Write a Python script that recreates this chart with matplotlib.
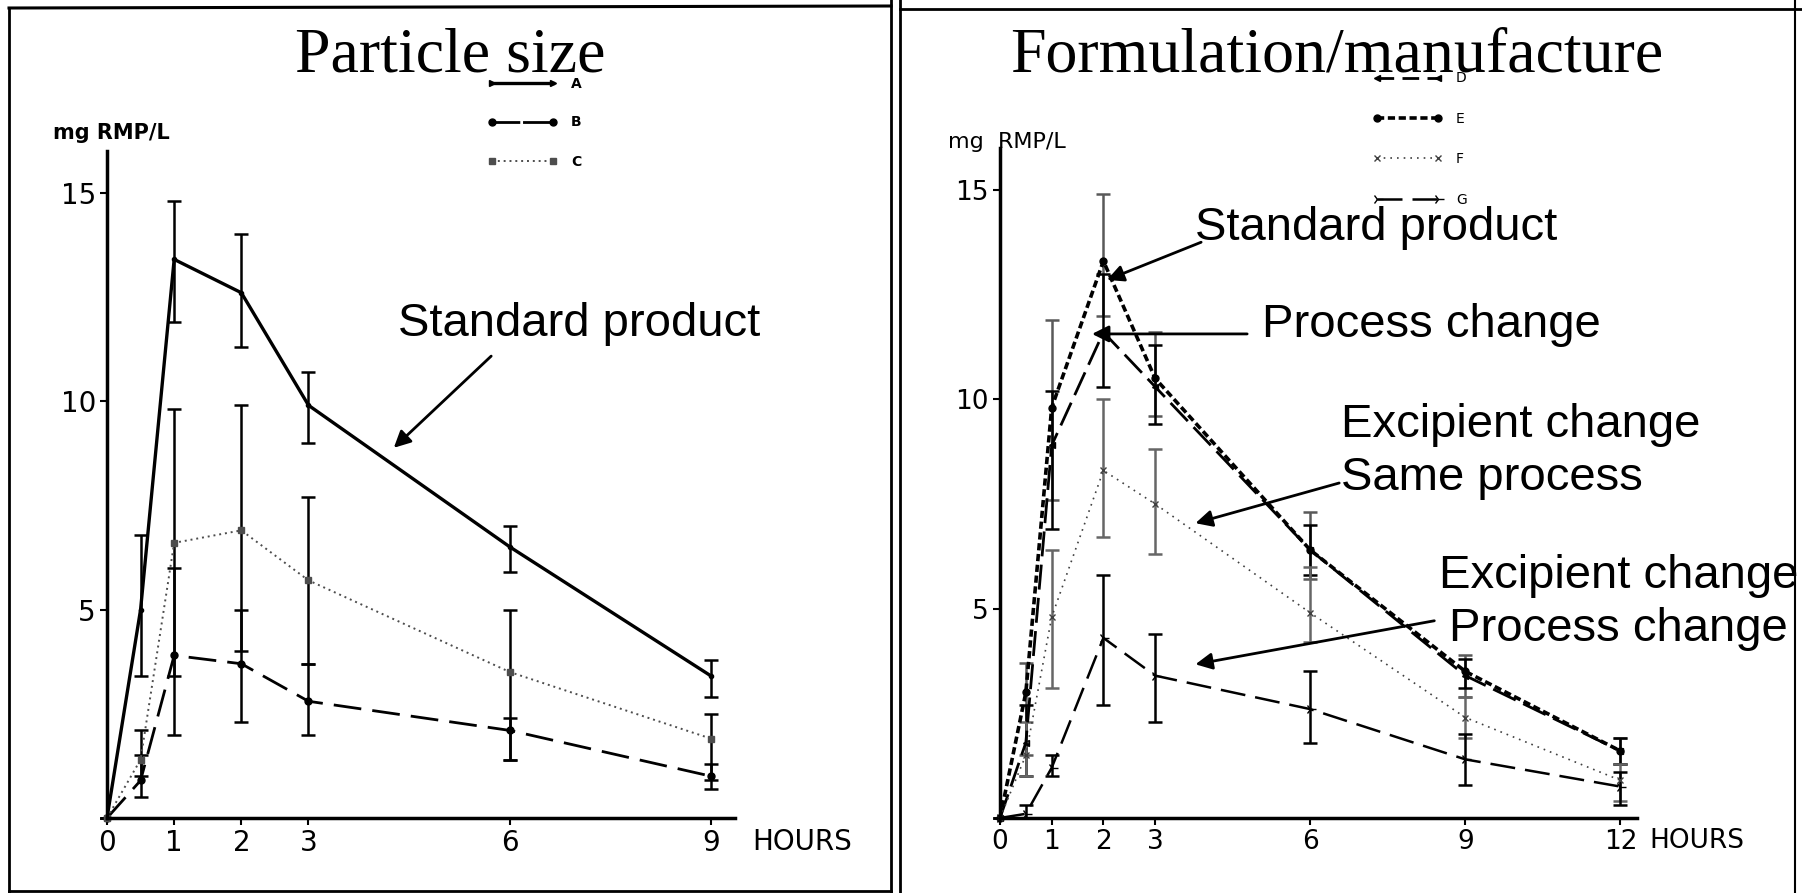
import matplotlib
matplotlib.use("Agg")
import matplotlib.pyplot as plt
from matplotlib.lines import Line2D
import numpy as np

# ---- left panel: particle size (A, B, C) ----
hours_left = [0, 0.5, 1, 2, 3, 6, 9]
a_mean = [0, 5.0, 13.4, 12.6, 9.9, 6.5, 3.4]
a_lo = [0, 3.4, 11.9, 11.3, 9.0, 5.9, 2.9]
a_hi = [0, 6.8, 14.8, 14.0, 10.7, 7.0, 3.8]
b_mean = [0, 0.9, 3.9, 3.7, 2.8, 2.1, 1.0]
b_lo = [0, 0.5, 2.0, 2.3, 2.0, 1.4, 0.7]
b_hi = [0, 1.5, 6.0, 5.0, 3.7, 2.4, 1.3]
c_mean = [0, 1.4, 6.6, 6.9, 5.7, 3.5, 1.9]
c_lo = [0, 1.0, 3.4, 4.0, 3.7, 1.4, 0.9]
c_hi = [0, 2.1, 9.8, 9.9, 7.7, 5.0, 2.5]

# ---- right panel: formulation / manufacture (D, E, F, G) ----
hours_right = [0, 0.5, 1, 2, 3, 6, 9, 12]
e_mean = [0, 3.0, 9.8, 13.3, 10.5, 6.4, 3.5, 1.6]   # standard product
e_lo = [0, 1.5, 7.6, 12.0, 9.6, 5.7, 2.9, 1.3]
e_hi = [0, 3.7, 11.9, 14.9, 11.6, 7.3, 3.9, 1.9]
d_mean = [0, 1.8, 8.9, 11.6, 10.3, 6.4, 3.4, 1.6]   # process change
d_lo = [0, 1.0, 6.9, 10.3, 9.4, 5.8, 3.1, 1.3]
d_hi = [0, 2.7, 10.2, 13.0, 11.3, 7.0, 3.8, 1.9]
f_mean = [0, 1.5, 4.8, 8.3, 7.5, 4.9, 2.4, 0.9]     # excipient change, same process
f_lo = [0, 1.0, 3.1, 6.7, 6.3, 4.2, 1.9, 0.4]
f_hi = [0, 2.3, 6.4, 10.0, 8.8, 6.0, 2.9, 1.3]
g_mean = [0, 0.1, 1.2, 4.3, 3.4, 2.6, 1.4, 0.75]    # excipient + process change
g_lo = [0, 0.0, 1.0, 2.7, 2.3, 1.8, 0.8, 0.3]
g_hi = [0, 0.3, 1.5, 5.8, 4.4, 3.5, 2.0, 1.1]

ticks_left = [0, 1, 2, 3, 6, 9]
ticks_right = [0, 1, 2, 3, 6, 9, 12]

W, H = 1802, 893
fig = plt.figure(figsize=(W / 100, H / 100), dpi=100)
fig.patch.set_facecolor("white")

ax1 = fig.add_axes([107 / W, 1 - 818 / H, 628 / W, 667 / H])
ax2 = fig.add_axes([1000 / W, 1 - 818 / H, 637 / W, 670 / H])


def yerr(m, lo, hi):
    m = np.array(m)
    return [m - np.array(lo), np.array(hi) - m]


def series(ax, x, m, lo, hi, dashes, lw, marker, color="black", ecolor="black", ms=5):
    line, caps, bars = ax.errorbar(x, m, yerr=yerr(m, lo, hi), color=color, lw=lw,
                                   marker=marker, ms=ms, ecolor=ecolor, elinewidth=1.8,
                                   capsize=5, capthick=1.8, clip_on=False)
    if dashes is not None:
        line.set_dashes(dashes)
    return line


series(ax1, hours_left, a_mean, a_lo, a_hi, None, 2.4, "o", ms=3)
series(ax1, hours_left, b_mean, b_lo, b_hi, (10, 4), 2.0, "o")
series(ax1, hours_left, c_mean, c_lo, c_hi, (1, 2), 1.4, "s", color="0.3", ms=4)

series(ax2, hours_right, e_mean, e_lo, e_hi, (2, 1), 2.6, "o", ms=5, ecolor="0.35")
series(ax2, hours_right, d_mean, d_lo, d_hi, (9, 3), 2.0, "<", ms=5)
series(ax2, hours_right, f_mean, f_lo, f_hi, (1, 3), 1.2, "x", color="0.25", ecolor="0.4", ms=5)
series(ax2, hours_right, g_mean, g_lo, g_hi, (10, 4), 1.8, "4", ms=8)

for ax in (ax1, ax2):
    for s in ("top", "right"):
        ax.spines[s].set_visible(False)
    for s in ("left", "bottom"):
        ax.spines[s].set_linewidth(2.5)
    ax.set_facecolor("none")
    ax.tick_params(direction="out", length=5, width=1.5, labelsize=20, pad=3)

ax1.set_xlim(0, 9.35)
ax1.set_ylim(0, 16)
ax1.set_xticks(ticks_left)
ax1.set_xticklabels([str(t) for t in ticks_left])
ax1.set_yticks([5, 10, 15])
ax1.set_yticklabels(["5", "10", "15"])
ax1.text(9.6, -0.25, "HOURS", fontsize=20, va="top", ha="left")
ax1.text(-0.8, 16.2, "mg RMP/L", fontsize=15, fontweight="bold", ha="left", va="bottom")

ax2.set_xlim(0, 12.32)
ax2.set_ylim(0, 16)
ax2.set_xticks(ticks_right)
ax2.set_xticklabels([str(t) for t in ticks_right])
ax2.set_yticks([5, 10, 15])
ax2.set_yticklabels(["5", "10", "15"])
ax2.tick_params(labelsize=19)
ax2.text(12.55, -0.25, "HOURS", fontsize=19, va="top", ha="left")
ax2.text(-1.0, 15.9, "mg  RMP/L", fontsize=16, ha="left", va="bottom")

# titles
fig.text(450 / W, 1 - 71 / H, "Particle size", fontsize=46, family="Liberation Serif",
         ha="center", va="baseline")
fig.text(1337 / W, 1 - 71 / H, "Formulation/manufacture", fontsize=46,
         family="Liberation Serif", ha="center", va="baseline")

# legends
leg_a = [Line2D([], [], color="black", lw=2.4, marker=">", ms=4),
         Line2D([], [], color="black", lw=2.0, marker="o", ms=5, dashes=(10, 1)),
         Line2D([], [], color="0.3", lw=1.4, marker="s", ms=4, dashes=(1, 2))]
fig.legend(leg_a, ["A", "B", "C"], loc="upper left",
           bbox_to_anchor=(475 / W, 1 - 64 / H), frameon=False, numpoints=2,
           handlelength=5.0, handletextpad=1.0, labelspacing=1.8,
           prop={"size": 10, "weight": "bold"})
leg_b = [Line2D([], [], color="black", lw=2.0, marker="<", ms=5, dashes=(6, 3)),
         Line2D([], [], color="black", lw=2.6, marker="o", ms=5, dashes=(2, 1)),
         Line2D([], [], color="0.25", lw=1.2, marker="x", ms=5, dashes=(1, 3)),
         Line2D([], [], color="black", lw=1.8, marker="4", ms=8, dashes=(10, 4))]
fig.legend(leg_b, ["D", "E", "F", "G"], loc="upper left",
           bbox_to_anchor=(1360 / W, 1 - 59 / H), frameon=False, numpoints=2,
           handlelength=5.0, handletextpad=1.0, labelspacing=1.9,
           prop={"size": 10})

# annotations
sans = "Liberation Sans"
arrow = dict(arrowstyle="-|>", lw=2, color="black", mutation_scale=25, shrinkA=0, shrinkB=0)
ax1.text(4.34, 11.86, "Standard product", fontsize=34, family=sans, ha="left", va="center")
ax1.annotate("", xy=(4.27, 8.88), xytext=(5.72, 11.08), arrowprops=arrow)

ax2.text(3.78, 14.08, "Standard product", fontsize=34, family=sans, ha="left", va="center")
ax2.annotate("", xy=(2.07, 12.85), xytext=(3.89, 13.75), arrowprops=arrow)
ax2.text(5.07, 11.78, "Process change", fontsize=34, family=sans, ha="left", va="center")
ax2.annotate("", xy=(1.78, 11.56), xytext=(4.78, 11.56), arrowprops=arrow)
ax2.text(6.6, 8.75, "Excipient change\nSame process", fontsize=34, family=sans,
         ha="left", va="center", linespacing=1.25)
ax2.annotate("", xy=(3.78, 7.04), xytext=(6.56, 8.0), arrowprops=arrow)
ax2.text(11.96, 5.15, "Excipient change\nProcess change", fontsize=34, family=sans,
         ha="center", va="center", multialignment="center", linespacing=1.25)
ax2.annotate("", xy=(3.78, 3.67), xytext=(8.4, 4.71), arrowprops=arrow)


# scanned panel borders
def frame_line(x0, y0, x1, y1, lw=2.0):
    fig.add_artist(Line2D([x0 / W, x1 / W], [1 - y0 / H, 1 - y1 / H],
                          color="black", lw=lw))


frame_line(9, 8, 9, 893)
frame_line(891, 0, 891, 893)
frame_line(9, 891, 891, 891)
frame_line(9, 8, 891, 6, lw=2.2)
frame_line(900, 0, 900, 893)
frame_line(900, 9, 1802, 9)
frame_line(1795, 0, 1795, 893, lw=1.5)

fig.savefig("out.png", dpi=100)
